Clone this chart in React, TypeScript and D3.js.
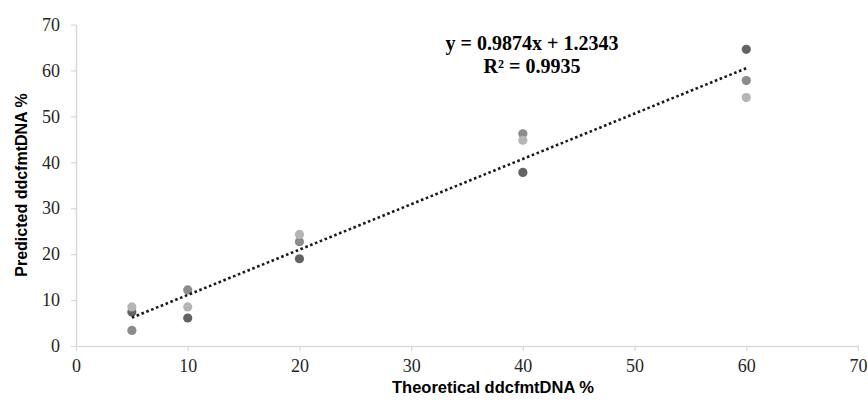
import React, { useEffect, useRef } from 'react'
import * as d3 from 'd3'

// theoretical % for each measured point
const theoretical = [5, 10, 20, 40, 60]
// three replicate series
const seriesDark = [7.4, 6.1, 19.0, 37.8, 64.6]
const seriesMid = [3.4, 12.2, 22.7, 46.2, 57.8]
const seriesLight = [8.5, 8.5, 24.3, 44.8, 54.1]
const seriesColors = ['#636363', '#8c8c8c', '#b5b5b5']
const slope = 0.9874
const intercept = 1.2343
const xTicks = [0, 10, 20, 30, 40, 50, 60, 70]
const yTicks = [0, 10, 20, 30, 40, 50, 60, 70]

const W = 868
const H = 403

const App = () => {
  const ref = useRef<SVGSVGElement>(null)

  useEffect(() => {
    const svg = d3.select(ref.current)
    svg.selectAll('*').remove()

    const x = d3.scaleLinear().domain([0, 70]).range([76, 858])
    const y = d3.scaleLinear().domain([0, 70]).range([346, 24.5])

    const axisColor = '#d9d9d9'

    // x axis
    const gx = svg.append('g').attr('transform', `translate(0, ${y(0)})`)
      .call(d3.axisBottom(x).tickValues(xTicks).tickSizeInner(5).tickSizeOuter(0).tickPadding(8))
    gx.select('.domain').attr('stroke', axisColor).attr('stroke-width', 1.5)
    gx.selectAll('.tick line').attr('stroke', axisColor).attr('stroke-width', 1.2)
    gx.selectAll('.tick text')
      .attr('font-family', '"Liberation Serif", "Times New Roman", serif')
      .attr('font-size', 18).attr('fill', '#262626')

    // y axis
    const gy = svg.append('g').attr('transform', `translate(${x(0)}, 0)`)
      .call(d3.axisLeft(y).tickValues(yTicks).tickSizeInner(5).tickSizeOuter(0).tickPadding(11))
    gy.select('.domain').attr('stroke', axisColor).attr('stroke-width', 1.5)
    gy.selectAll('.tick line').attr('stroke', axisColor).attr('stroke-width', 1.2)
    gy.selectAll('.tick text')
      .attr('font-family', '"Liberation Serif", "Times New Roman", serif')
      .attr('font-size', 18).attr('fill', '#262626')

    // points
    const series = [seriesDark, seriesMid, seriesLight]
    series.forEach((vals, i) => {
      svg.append('g')
        .selectAll('circle')
        .data(vals)
        .enter()
        .append('circle')
        .attr('cx', (_d, j) => x(theoretical[j]))
        .attr('cy', d => y(d))
        .attr('r', 4.6)
        .attr('fill', seriesColors[i])
    })

    // linear trendline
    const x0 = d3.min(theoretical) as number
    const x1 = d3.max(theoretical) as number
    svg.append('line')
      .attr('x1', x(x0)).attr('y1', y(slope * x0 + intercept))
      .attr('x2', x(x1)).attr('y2', y(slope * x1 + intercept))
      .attr('stroke', '#1a1a1a')
      .attr('stroke-width', 2.6)
      .attr('stroke-dasharray', '2.6 2.6')

    // equation
    const eq = svg.append('text')
      .attr('text-anchor', 'middle')
      .attr('font-family', '"Liberation Serif", "Times New Roman", serif')
      .attr('font-weight', 'bold')
      .attr('font-size', 20)
      .attr('fill', '#000')
    eq.append('tspan').attr('x', 532).attr('y', 50).text(`y = ${slope}x + ${intercept}`)
    eq.append('tspan').attr('x', 532).attr('y', 73).text('R² = 0.9935')

    // axis titles
    svg.append('text')
      .text('Theoretical ddcfmtDNA %')
      .attr('text-anchor', 'middle')
      .attr('font-family', '"Liberation Sans", Arial, sans-serif')
      .attr('font-weight', 'bold')
      .attr('font-size', 16.5)
      .attr('fill', '#000')
      .attr('x', 493)
      .attr('y', 393)

    svg.append('text')
      .text('Predicted ddcfmtDNA %')
      .attr('transform', 'rotate(-90)')
      .attr('text-anchor', 'middle')
      .attr('font-family', '"Liberation Sans", Arial, sans-serif')
      .attr('font-weight', 'bold')
      .attr('font-size', 16)
      .attr('fill', '#000')
      .attr('x', -185)
      .attr('y', 27)
  }, [])

  return (
    <svg
      ref={ref}
      width={W}
      height={H}
      style={{ position: 'absolute', left: 0, top: 0, background: '#fff' }}
    />
  )
}

export default App
